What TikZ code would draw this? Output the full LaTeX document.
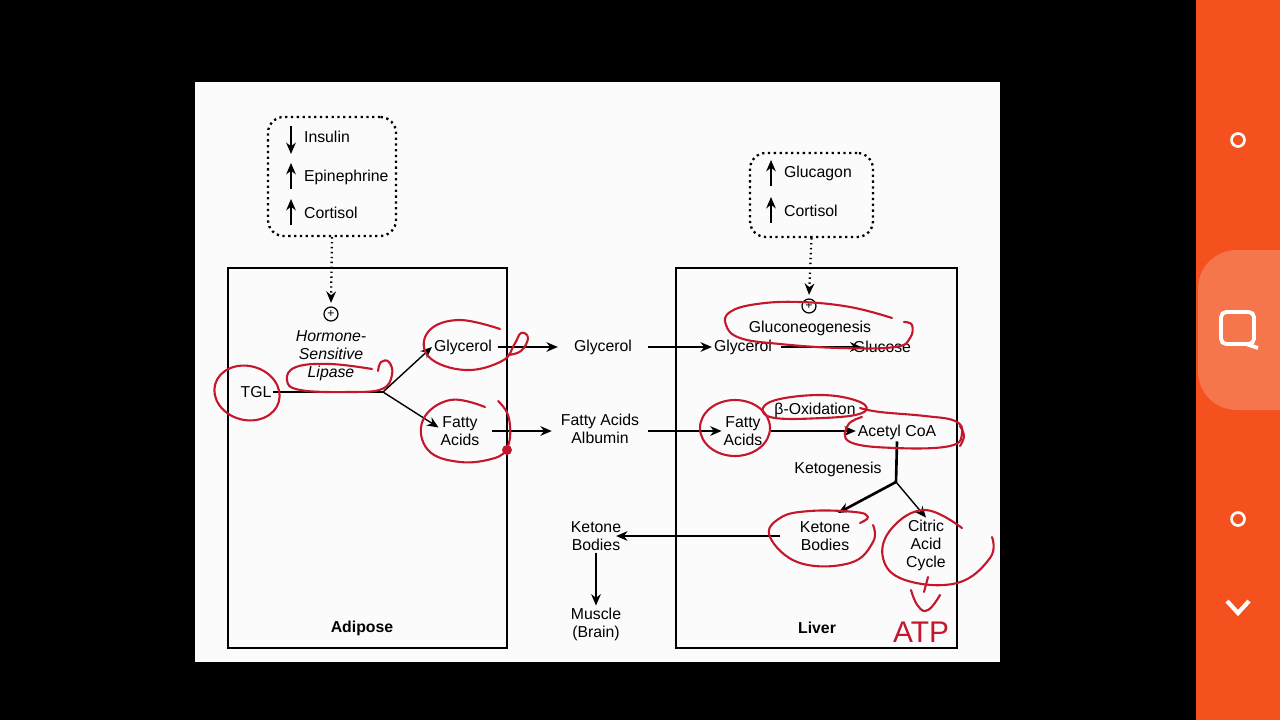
\documentclass[tikz,border=0pt]{standalone}
\usepackage{fontspec}
\setmainfont{Liberation Sans}
\usetikzlibrary{arrows.meta,positioning}

\definecolor{penred}{HTML}{C4172C}
\definecolor{sidebar}{HTML}{F4511E}
\definecolor{sidelight}{HTML}{F5764D}
\definecolor{paper}{HTML}{FBFBFB}

\tikzset{
  lbl/.style={font=\fontsize{9}{10.2}\selectfont, inner sep=1pt, align=center},
  tissue/.style={draw, line width=0.9pt},
  hormbox/.style={draw, dotted, line width=1.3pt, rounded corners=9pt},
  flow/.style={-{Stealth[length=6.5pt,width=5.5pt]}, line width=0.8pt},
  plus/.style={draw, circle, line width=0.7pt, inner sep=0pt, minimum size=0.28cm, font=\fontsize{7}{7}\selectfont},
  pen/.style={draw=penred, line width=1.2pt, line cap=round, line join=round}
}

\begin{document}
\begin{tikzpicture}[x=0.02cm, y=-0.02cm]

    % --- Screen and page ---
    \fill[black] (0,0) rectangle (1280,720);
    \useasboundingbox (0,0) rectangle (1280,720);
    \fill[paper] (195,82) rectangle (1000,662);

    % --- Side bar ---
    \fill[sidebar] (1196,0) rectangle (1280,720);
    \begin{scope}
      \clip (1196,0) rectangle (1280,720);
      \fill[sidelight, rounded corners=22pt] (1198,250) rectangle (1330,410);
    \end{scope}
    \draw[white, line width=1.5pt] (1238,140) circle (6.5);
    \draw[white, line width=1.5pt] (1238,519) circle (6.5);
    \draw[white, line width=2.2pt, rounded corners=3pt] (1221,312) rectangle (1254,344);
    \draw[white, line width=2.2pt] (1246,344) -- (1258,348);
    \draw[white, line width=2.4pt] (1227,601) -- (1238,613) -- (1249,601);

    % --- Tissue boxes ---
    \node[tissue, minimum width=5.58cm, minimum height=7.6cm] (adipose) at (367.5,458) {};
    \node[tissue, minimum width=5.62cm, minimum height=7.6cm] (liver) at (816.5,458) {};
    \node[lbl, font=\fontsize{9}{10}\selectfont\bfseries] (adiposelbl) at (362,628) {Adipose};
    \node[lbl, font=\fontsize{9}{10}\selectfont\bfseries] (liverlbl) at (817,628) {Liver};

    % --- Hormone boxes ---
    \node[hormbox, minimum width=2.56cm, minimum height=2.38cm] (hormL) at (332,176.5) {};
    \node[lbl, anchor=west] (insulin) at (302,137) {Insulin};
    \node[lbl, anchor=west] (epi) at (302,177) {Epinephrine};
    \node[lbl, anchor=west] (cortL) at (302,213) {Cortisol};
    \draw[flow] (291,126) -- (291,154);
    \draw[flow] (291,189) -- (291,163);
    \draw[flow] (291,225) -- (291,199);

    \node[hormbox, minimum width=2.46cm, minimum height=1.68cm] (hormR) at (811.5,195) {};
    \node[lbl, anchor=west] (glucagon) at (782,173) {Glucagon};
    \node[lbl, anchor=west] (cortR) at (782,211) {Cortisol};
    \draw[flow] (771,186) -- (771,160);
    \draw[flow] (771,223) -- (771,197);

    % --- Adipose ---
    \node[plus] (plusL) at (331,314) {+};
    \node[lbl, font=\fontsize{9}{10.2}\selectfont\itshape] (hsl) at (331,356) {Hormone-\\Sensitive\\Lipase};
    \node[lbl] (tgl) at (256,392) {TGL};
    \coordinate (fork) at (383,392);
    \node[lbl] (glyA) at (463,347) {Glycerol};
    \node[lbl] (faA) at (460,431) {Fatty\\Acids};

    % --- Blood ---
    \node[lbl] (glyB) at (603,347) {Glycerol};
    \node[lbl] (faB) at (600,429) {Fatty Acids\\Albumin};
    \node[lbl] (kbB) at (596,536) {Ketone\\Bodies};
    \node[lbl] (muscle) at (596,624) {Muscle\\(Brain)};

    % --- Liver ---
    \node[plus] (plusR) at (809,306) {+};
    \node[lbl] (gng) at (810,328) {Gluconeogenesis};
    \node[lbl] (glyC) at (743,347) {Glycerol};
    \node[lbl] (glucose) at (882,347) {Glucose};
    \node[lbl] (faC) at (743,431) {Fatty\\Acids};
    \node[lbl] (boxid) at (815,410) {β-Oxidation};
    \node[lbl] (acoa) at (897,432) {Acetyl CoA};
    \coordinate (split) at (896,482);
    \node[lbl] (ketogen) at (838,469) {Ketogenesis};
    \node[lbl] (kbC) at (825,536) {Ketone\\Bodies};
    \node[lbl] (cac) at (926,545) {Citric\\Acid\\Cycle};

    % --- Connectors ---
    \draw[flow, dotted, line width=1.3pt] (hormL.south) -- ([yshift=2pt]plusL.north);
    \draw[flow, dotted, line width=1.3pt] (hormR.south) -- ([yshift=2pt]plusR.north);
    \draw[line width=0.8pt] (tgl.east) -- (fork);
    \draw[flow] (fork) -- (glyA.west);
    \draw[flow] (fork) -- ([yshift=2pt]faA.west);
    \draw[flow] ([xshift=2]glyA.east) -- ([xshift=-8]glyB.west);
    \draw[flow] ([xshift=8]glyB.east) -- (glyC.west);
    \draw[flow] ([xshift=4]glyC.east) -- ([xshift=6]glucose.west);
    \draw[flow] ([xshift=6]faA.east) -- ([xshift=-4]faB.west |- faA.east);
    \draw[flow] ([xshift=4]faB.east |- faA.east) -- (faC.west);
    \draw[flow] ([xshift=4]faC.east) -- (acoa.west |- faC.east);
    \draw[line width=1.5pt] (acoa.south) -- (split);
    \draw[flow, line width=1.5pt] (split) -- (838,513);
    \draw[flow] (split) -- (cac.north);
    \draw[flow] ([xshift=-10]kbC.west) -- ([xshift=-4]kbB.east);
    \draw[flow] (kbB.south) -- (muscle.north);

    % --- Pen marks ---
    \draw[pen, rotate around={-15:(247,393)}] (247,393) ellipse (33 and 27);
    \draw[pen] plot[smooth, tension=0.7] coordinates {(372,369) (330,364) (296,367) (287,380) (300,390) (350,392) (382,389) (392,375) (389,362) (381,362) (378,371)};
    \draw[pen] plot[smooth, tension=0.7] coordinates {(500,329) (458,320) (428,332) (429,357) (465,370) (502,361) (514,345) (521,333) (528,338) (521,351) (508,355)};
    \draw[pen] plot[smooth, tension=0.7] coordinates {(485,407) (450,400) (423,420) (428,450) (460,462) (495,458) (508,448)};
    \draw[pen] plot[smooth, tension=0.7] coordinates {(498,401) (508,415) (510,438) (505,452)};
    \fill[penred] (507,450) circle (5);
    \draw[pen] plot[smooth, tension=0.7] coordinates {(892,318) (850,307) (800,302) (757,304) (730,312) (726,325) (740,338) (780,344) (840,348) (895,347) (910,338) (912,325) (904,322)};
    \draw[pen] (735,428) ellipse (35 and 28);
    \draw[pen] plot[smooth cycle, tension=0.7] coordinates {(770,402) (820,395) (860,402) (862,413) (823,418) (770,417)};
    \draw[pen] plot[smooth, tension=0.7] coordinates {(860,408) (880,412) (925,416) (955,421) (962,433) (950,446) (895,448) (850,442) (848,425) (862,417)};
    \draw[pen] plot[smooth, tension=0.7] coordinates {(960,426) (964,436) (960,446)};
    \draw[pen] plot[smooth, tension=0.7] coordinates {(860,523) (868,517) (855,512) (810,511) (780,518) (770,537) (800,563) (850,563) (873,542) (873,525)};
    \draw[pen] plot[smooth, tension=0.7] coordinates {(962,528) (925,510) (892,528) (883,558) (905,580) (957,583) (990,558) (992,537)};
    \draw[pen] (928,577) -- (924,592);
    \draw[pen] plot[smooth, tension=0.8] coordinates {(911,590) (918,606) (928,610) (940,595)};
    \node[lbl, text=penred, font=\fontsize{17}{17}\selectfont] (atp) at (921,632) {ATP};

\end{tikzpicture}
\end{document}
